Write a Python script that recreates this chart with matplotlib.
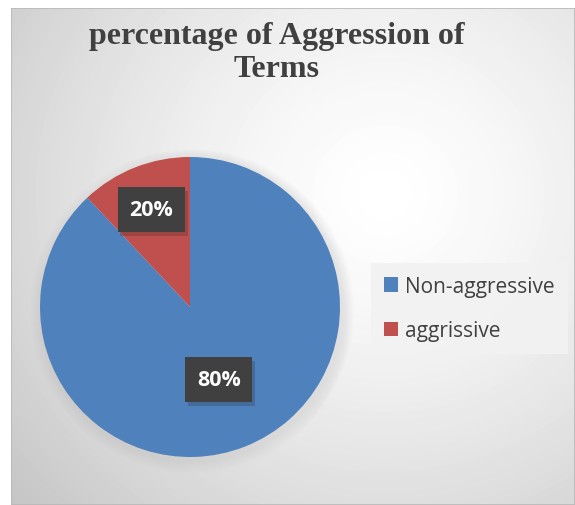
import matplotlib
matplotlib.use("Agg")
import matplotlib.pyplot as plt
import matplotlib.patheffects as pe
import numpy as np

# chart data
categories = ["Non-aggressive", "aggrissive"]
shares = [88, 12]            # wedge sizes as drawn in the picture
label_texts = ["80%", "20%"]  # labels printed on the chart
colors = ["#4f81bd", "#c0504d"]

W, H = 575, 506
fig = plt.figure(figsize=(W / 100, H / 100), dpi=100)
fig.patch.set_facecolor("white")

# gradient background panel
bg = fig.add_axes([11 / W, 0, 1 - 11 / W, 1 - 9 / H])
bg.set_axis_off()
yy, xx = np.mgrid[9:H, 11:W]
d = np.hypot(xx - 385, (yy - 195) * 1.05)
shade = 1 - 0.22 * np.clip(d / 480, 0, 1.2) ** 1.4
bg.imshow(shade, cmap="gray", vmin=0, vmax=1, aspect="auto", interpolation="bilinear")
bg.add_patch(plt.Rectangle((0, 0), 1, 1, transform=bg.transAxes, fill=False,
                           edgecolor="#b8b8b8", lw=1.2))

# main axes in pixel-like units
ax = fig.add_axes([0, 0, 1, 1])
ax.patch.set_alpha(0)

cx, cy, r = 190, 198, 150

# soft shadow under the pie
for k in range(12):
    ax.add_patch(plt.Circle((cx + 2, cy - 4), r + 12 - k, color="#909090",
                            alpha=0.012, lw=0))

wedges, _ = ax.pie(shares, colors=colors, startangle=90, counterclock=False,
                   center=(cx, cy), radius=r, frame=True,
                   wedgeprops=dict(linewidth=0))
ax.set_xlim(0, W)
ax.set_ylim(0, H)
ax.set_axis_off()

dist = [0.52, 0.70]
for w, txt, f in zip(wedges, label_texts, dist):
    ang = np.deg2rad((w.theta1 + w.theta2) / 2)
    t = ax.text(cx + f * r * np.cos(ang), cy + f * r * np.sin(ang), txt,
                ha="center", va="center", color="white", fontsize=15.5,
                fontweight="bold", family="Open Sans",
                bbox=dict(boxstyle="square,pad=0.55", facecolor="#404040",
                          edgecolor="none"))
    t.get_bbox_patch().set_path_effects(
        [pe.SimplePatchShadow(offset=(2, -3), shadow_rgbFace="#202020", alpha=0.22),
         pe.Normal()])

fig.text(277 / W, 1 - 53 / H, "percentage of Aggression of\nTerms", ha="center",
         va="center", fontsize=23, fontweight="bold", family="Liberation Serif",
         color="#404040", linespacing=1.22)

leg = ax.legend(wedges, categories, loc="upper left",
                bbox_to_anchor=(371 / W, 1 - 264 / H), bbox_transform=fig.transFigure,
                borderaxespad=0, frameon=True, fancybox=False, facecolor="#f2f2f2",
                edgecolor="none", framealpha=0.9, handlelength=0.7, handleheight=0.7,
                handletextpad=0.35, labelspacing=1.15, borderpad=0.6,
                prop=dict(family="Open Sans", size=15))
for t in leg.get_texts():
    t.set_color("#404040")

fig.savefig("out.png", dpi=100)
